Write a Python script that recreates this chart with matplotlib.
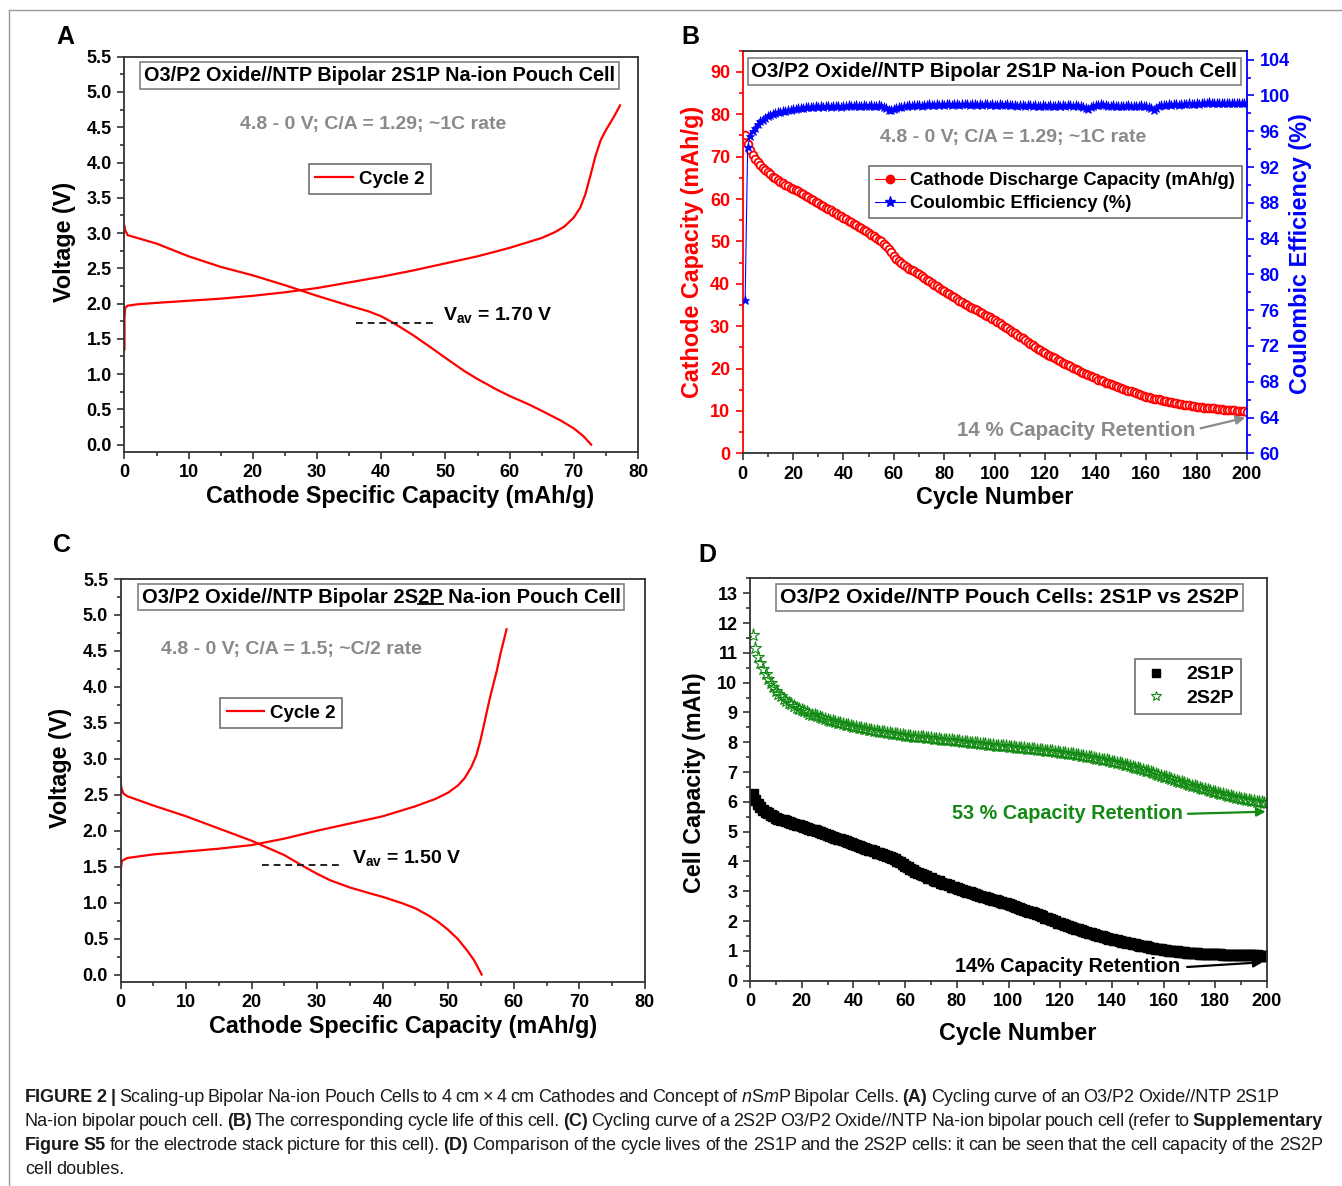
import numpy as np
import matplotlib.pyplot as plt
from matplotlib.ticker import MultipleLocator
from matplotlib.lines import Line2D

plt.rcParams['font.family'] = ['Liberation Sans', 'DejaVu Sans']
plt.rcParams['font.weight'] = 'bold'
plt.rcParams['mathtext.default'] = 'regular'

# ---------------- data ----------------
# A: 2S1P cycle 2 voltage curves
a_chg_x = [0, 0, 0.1, 0.5, 2, 5, 10, 15, 20, 25, 30, 35, 40, 45, 50, 55, 60, 65, 67, 68.5,
           70, 71, 71.8, 72.6, 73.4, 74.2, 75.0, 75.8, 76.5, 77.2]
a_chg_v = [1.35, 1.80, 1.94, 1.97, 1.99, 2.01, 2.04, 2.07, 2.11, 2.16, 2.22, 2.30, 2.38, 2.47, 2.57,
           2.67, 2.79, 2.93, 3.01, 3.09, 3.22, 3.36, 3.55, 3.82, 4.10, 4.32, 4.46, 4.58, 4.69, 4.81]
a_dis_x = [0, 0.1, 0.5, 2, 5, 10, 15, 20, 25, 30, 35, 38, 40, 42, 45, 48, 50, 53, 55, 58, 60, 63,
           65, 68, 70, 71.5, 72.7]
a_dis_v = [3.10, 3.04, 2.97, 2.93, 2.85, 2.67, 2.52, 2.40, 2.26, 2.11, 1.97, 1.89, 1.82, 1.72, 1.55,
           1.36, 1.23, 1.04, 0.93, 0.78, 0.69, 0.57, 0.48, 0.34, 0.23, 0.12, 0.0]

# C: 2S2P cycle 2 voltage curves
c_chg_x = [0, 0, 0.2, 1, 5, 10, 15, 20, 25, 30, 35, 40, 45, 48, 50, 51.5, 52.5, 53.5, 54.3, 54.9,
           55.4, 55.9, 56.4, 56.9, 57.4, 58.0, 58.9]
c_chg_v = [1.20, 1.45, 1.58, 1.62, 1.67, 1.71, 1.75, 1.80, 1.89, 2.00, 2.10, 2.20, 2.34, 2.44, 2.53,
           2.63, 2.73, 2.88, 3.05, 3.25, 3.45, 3.66, 3.86, 4.04, 4.22, 4.47, 4.80]
c_dis_x = [0, 0.1, 0.4, 1, 5, 10, 15, 20, 22, 25, 28, 30, 32, 35, 38, 40, 43, 45, 47, 48.5, 50,
           51.5, 53, 54, 55.1]
c_dis_v = [2.72, 2.60, 2.52, 2.48, 2.35, 2.20, 2.03, 1.86, 1.78, 1.66, 1.50, 1.40, 1.31, 1.21, 1.13,
           1.08, 0.99, 0.92, 0.82, 0.73, 0.62, 0.49, 0.32, 0.19, 0.0]

cycles = list(range(1, 201))

# B: cathode discharge capacity (mAh/g) and coulombic efficiency (%)
cap_b = [75.0, 73.0, 71.5, 70.4, 69.5, 68.7, 68.0, 67.4, 66.8, 66.3,
         65.8, 65.3, 64.9, 64.5, 64.1, 63.7, 63.4, 63.0, 62.7, 62.4,
         62.1, 61.8, 61.5, 61.2, 60.8, 60.5, 60.1, 59.8, 59.4, 59.1,
         58.7, 58.4, 58.0, 57.7, 57.3, 56.9, 56.6, 56.2, 55.9, 55.5,
         55.2, 54.8, 54.5, 54.1, 53.8, 53.4, 53.1, 52.7, 52.4, 52.0,
         51.6, 51.2, 50.8, 50.4, 50.0, 49.5, 48.9, 48.2, 47.4, 46.6,
         45.9, 45.3, 44.8, 44.4, 44.0, 43.6, 43.2, 42.9, 42.5, 42.2,
         41.8, 41.4, 41.0, 40.6, 40.2, 39.8, 39.4, 39.0, 38.6, 38.2,
         37.8, 37.5, 37.1, 36.8, 36.4, 36.0, 35.7, 35.3, 35.0, 34.6,
         34.3, 34.0, 33.7, 33.4, 33.1, 32.7, 32.4, 32.1, 31.8, 31.5,
         31.1, 30.7, 30.3, 29.9, 29.5, 29.1, 28.7, 28.3, 27.9, 27.5,
         27.1, 26.7, 26.3, 25.9, 25.5, 25.1, 24.7, 24.3, 24.0, 23.6,
         23.3, 23.0, 22.7, 22.4, 22.1, 21.7, 21.4, 21.1, 20.8, 20.5,
         20.2, 19.9, 19.6, 19.3, 19.0, 18.8, 18.5, 18.2, 17.9, 17.7,
         17.4, 17.2, 17.0, 16.7, 16.5, 16.3, 16.0, 15.8, 15.6, 15.4,
         15.2, 15.0, 14.8, 14.6, 14.4, 14.2, 14.0, 13.8, 13.6, 13.4,
         13.2, 13.1, 12.9, 12.8, 12.7, 12.5, 12.4, 12.3, 12.1, 12.0,
         11.9, 11.8, 11.7, 11.6, 11.5, 11.4, 11.3, 11.2, 11.1, 11.0,
         10.9, 10.9, 10.8, 10.7, 10.7, 10.6, 10.6, 10.5, 10.5, 10.4,
         10.3, 10.3, 10.2, 10.2, 10.1, 10.0, 10.0, 9.9, 9.9, 9.8]
ce_b = [77.1, 94.2, 95.5, 96.0, 96.4, 96.8, 97.1, 97.3, 97.5, 97.7,
        97.8, 97.9, 98.0, 98.1, 98.2, 98.3, 98.3, 98.4, 98.4, 98.5,
        98.5, 98.6, 98.6, 98.6, 98.7, 98.7, 98.7, 98.7, 98.8, 98.7,
        98.8, 98.7, 98.8, 98.8, 98.7, 98.8, 98.8, 98.8, 98.7, 98.8,
        98.8, 98.9, 98.8, 98.8, 98.9, 98.8, 98.8, 98.9, 98.8, 98.8,
        98.9, 98.8, 98.8, 98.9, 98.8, 98.7, 98.6, 98.4, 98.4, 98.5,
        98.6, 98.7, 98.7, 98.8, 98.8, 98.9, 98.8, 98.9, 98.9, 98.9,
        98.8, 98.9, 98.9, 99.0, 98.9, 98.9, 99.0, 98.9, 99.0, 98.9,
        99.0, 99.0, 98.9, 99.0, 99.0, 98.9, 99.0, 99.0, 99.0, 98.9,
        99.0, 99.0, 98.9, 99.0, 98.9, 99.0, 99.0, 98.9, 99.0, 98.9,
        98.9, 99.0, 98.9, 98.9, 99.0, 98.9, 98.9, 98.9, 98.8, 98.9,
        98.9, 98.8, 98.9, 98.9, 98.8, 98.9, 98.8, 98.8, 98.9, 98.8,
        98.8, 98.9, 98.8, 98.8, 98.9, 98.8, 98.9, 98.8, 98.9, 98.9,
        98.8, 98.9, 98.8, 98.8, 98.7, 98.6, 98.5, 98.7, 98.8, 98.9,
        98.9, 99.0, 98.9, 98.9, 98.8, 98.8, 98.9, 98.8, 98.8, 98.8,
        98.8, 98.8, 98.9, 98.8, 98.8, 98.8, 98.8, 98.9, 98.8, 98.8,
        98.7, 98.6, 98.4, 98.6, 98.8, 98.9, 98.9, 98.9, 99.0, 98.9,
        99.0, 99.0, 98.9, 99.0, 99.0, 99.0, 99.1, 99.0, 99.0, 99.1,
        99.0, 99.1, 99.1, 99.2, 99.3, 99.1, 99.1, 99.2, 99.1, 99.2,
        99.2, 99.1, 99.2, 99.2, 99.2, 99.1, 99.2, 99.2, 99.1, 99.1]

# D: cell capacity (mAh)
cap_2s1p = [6.25, 6.05, 5.92, 5.82, 5.74, 5.67, 5.61, 5.56, 5.51, 5.46,
            5.43, 5.40, 5.38, 5.35, 5.32, 5.30, 5.27, 5.24, 5.22, 5.19,
            5.16, 5.13, 5.10, 5.07, 5.04, 5.01, 4.98, 4.95, 4.92, 4.89,
            4.86, 4.83, 4.80, 4.77, 4.74, 4.71, 4.68, 4.65, 4.62, 4.59,
            4.56, 4.53, 4.50, 4.46, 4.43, 4.40, 4.37, 4.34, 4.30, 4.27,
            4.24, 4.21, 4.17, 4.14, 4.11, 4.07, 4.03, 3.97, 3.91, 3.85,
            3.80, 3.75, 3.71, 3.66, 3.62, 3.58, 3.54, 3.50, 3.46, 3.43,
            3.39, 3.36, 3.33, 3.29, 3.26, 3.23, 3.20, 3.16, 3.13, 3.10,
            3.07, 3.04, 3.02, 2.99, 2.96, 2.93, 2.91, 2.88, 2.85, 2.82,
            2.80, 2.77, 2.75, 2.72, 2.70, 2.67, 2.65, 2.62, 2.60, 2.57,
            2.54, 2.51, 2.48, 2.45, 2.42, 2.38, 2.35, 2.32, 2.29, 2.26,
            2.23, 2.19, 2.16, 2.12, 2.09, 2.06, 2.02, 1.99, 1.95, 1.92,
            1.89, 1.86, 1.83, 1.80, 1.78, 1.75, 1.72, 1.69, 1.67, 1.64,
            1.61, 1.59, 1.56, 1.54, 1.51, 1.49, 1.46, 1.44, 1.41, 1.39,
            1.37, 1.35, 1.33, 1.31, 1.29, 1.27, 1.25, 1.24, 1.22, 1.20,
            1.18, 1.16, 1.15, 1.13, 1.11, 1.10, 1.08, 1.06, 1.05, 1.03,
            1.02, 1.01, 1.00, 0.99, 0.98, 0.97, 0.96, 0.95, 0.94, 0.93,
            0.93, 0.92, 0.92, 0.91, 0.91, 0.90, 0.90, 0.89, 0.89, 0.88,
            0.88, 0.88, 0.87, 0.87, 0.87, 0.87, 0.86, 0.86, 0.86, 0.86,
            0.86, 0.85, 0.85, 0.85, 0.85, 0.85, 0.84, 0.84, 0.84, 0.84]
cap_2s2p = [11.60, 11.15, 10.87, 10.65, 10.45, 10.28, 10.12, 9.98, 9.85, 9.73,
            9.63, 9.54, 9.46, 9.39, 9.33, 9.27, 9.21, 9.16, 9.12, 9.08,
            9.04, 9.00, 8.96, 8.93, 8.90, 8.87, 8.84, 8.81, 8.78, 8.75,
            8.72, 8.70, 8.67, 8.65, 8.63, 8.61, 8.59, 8.57, 8.54, 8.52,
            8.50, 8.48, 8.47, 8.45, 8.44, 8.42, 8.41, 8.39, 8.38, 8.36,
            8.35, 8.33, 8.32, 8.30, 8.29, 8.28, 8.26, 8.25, 8.23, 8.22,
            8.21, 8.20, 8.19, 8.18, 8.17, 8.16, 8.16, 8.15, 8.14, 8.13,
            8.12, 8.11, 8.10, 8.09, 8.08, 8.07, 8.07, 8.06, 8.05, 8.04,
            8.03, 8.02, 8.01, 8.00, 7.99, 7.98, 7.97, 7.96, 7.95, 7.94,
            7.93, 7.92, 7.91, 7.90, 7.89, 7.89, 7.88, 7.87, 7.86, 7.85,
            7.84, 7.83, 7.82, 7.81, 7.80, 7.80, 7.79, 7.78, 7.77, 7.76,
            7.75, 7.74, 7.73, 7.72, 7.71, 7.70, 7.69, 7.68, 7.66, 7.65,
            7.64, 7.63, 7.61, 7.60, 7.59, 7.57, 7.56, 7.55, 7.53, 7.52,
            7.50, 7.49, 7.47, 7.45, 7.44, 7.42, 7.40, 7.39, 7.37, 7.35,
            7.33, 7.31, 7.29, 7.27, 7.24, 7.22, 7.20, 7.18, 7.15, 7.13,
            7.10, 7.08, 7.05, 7.02, 6.99, 6.97, 6.94, 6.91, 6.88, 6.85,
            6.82, 6.79, 6.76, 6.74, 6.71, 6.68, 6.65, 6.62, 6.60, 6.57,
            6.54, 6.52, 6.49, 6.47, 6.44, 6.42, 6.39, 6.37, 6.34, 6.32,
            6.30, 6.27, 6.25, 6.23, 6.21, 6.19, 6.16, 6.14, 6.12, 6.10,
            6.08, 6.07, 6.05, 6.04, 6.02, 6.01, 5.99, 5.98, 5.96, 5.95]

caption = [
    [('FIGURE 2 |', 'b'),
     (' Scaling-up Bipolar Na-ion Pouch Cells to 4 cm \u00d7 4 cm Cathodes and Concept of ', 'r'),
     ('n', 'i'), ('S', 'r'), ('m', 'i'), ('P Bipolar Cells. ', 'r'), ('(A)', 'b'),
     (' Cycling curve of an O3/P2 Oxide//NTP 2S1P', 'r')],
    [('Na-ion bipolar pouch cell. ', 'r'), ('(B)', 'b'),
     (' The corresponding cycle life of this cell. ', 'r'), ('(C)', 'b'),
     (' Cycling curve of a 2S2P O3/P2 Oxide//NTP Na-ion bipolar pouch cell (refer to ', 'r'),
     ('Supplementary', 'b')],
    [('Figure S5', 'b'), (' for the electrode stack picture for this cell). ', 'r'), ('(D)', 'b'),
     (' Comparison of the cycle lives of the 2S1P and the 2S2P cells: it can be seen that the cell capacity of the 2S2P', 'r')],
    [('cell doubles.', 'r')],
]

# ---------------- figure ----------------
W, H = 1342, 1186
fig = plt.figure(figsize=(W / 100, H / 100), dpi=100)
RED, BLUE, GREEN, GRAY = '#ff0000', '#0000ff', '#138a13', '#8a8a8a'


def add_ax(l, t, r, b):
    return fig.add_axes([l / W, 1 - b / H, (r - l) / W, (b - t) / H])


def style_ax(ax, xmaj, xmin, ymaj, ymin):
    for sp in ax.spines.values():
        sp.set_linewidth(1.3)
        sp.set_color('#333333')
    ax.xaxis.set_major_locator(MultipleLocator(xmaj))
    ax.xaxis.set_minor_locator(MultipleLocator(xmin))
    ax.yaxis.set_major_locator(MultipleLocator(ymaj))
    ax.yaxis.set_minor_locator(MultipleLocator(ymin))
    ax.tick_params(which='both', direction='out', top=False, right=False, width=1.2,
                   labelsize=13, color='#333333')
    ax.tick_params(which='major', length=5, pad=4)
    ax.tick_params(which='minor', length=3)


def title_box(ax, x, y, s, fs):
    return ax.text(x, y, s, transform=ax.transAxes, ha='center', va='center', fontsize=fs,
                   bbox=dict(boxstyle='square,pad=0.18', fc='white', ec='#808080', lw=1.2))


def label(ax, x, y, s, rot=0, color='black', fs=16.8):
    ax.text(x, y, s, transform=ax.transAxes, ha='center', va='center', rotation=rot,
            fontsize=fs, color=color)


leg_kw = dict(loc='upper left', borderaxespad=0, fancybox=False, framealpha=1,
              edgecolor='#707070', borderpad=0.35, labelspacing=0.3)

# ---- A ----
ax_a = add_ax(124.5, 56.7, 638, 451.7)
style_ax(ax_a, 10, 5, 0.5, 0.25)
ax_a.set_xlim(0, 80)
ax_a.set_ylim(-0.1, 5.5)
ax_a.plot(a_chg_x, a_chg_v, color=RED, lw=1.6, label='Cycle 2')
ax_a.plot(a_dis_x, a_dis_v, color=RED, lw=1.6)
ax_a.plot([36, 48.1], [1.72, 1.72], color='#222222', lw=1.4, ls=(0, (3.5, 2.5)))
ax_a.text(49.6, 1.84, 'V$_{\\mathregular{av}}$ = 1.70 V', fontsize=14, ha='left', va='center')
title_box(ax_a, 0.4966, 0.9524, 'O3/P2 Oxide//NTP Bipolar 2S1P Na-ion Pouch Cell', 14.3)
ax_a.text(0.484, 0.8296, '4.8 - 0 V; C/A = 1.29; ~1C rate', transform=ax_a.transAxes,
          ha='center', va='center', fontsize=14, color=GRAY)
lg = ax_a.legend(bbox_to_anchor=(0.359, 0.728), prop={'size': 13.5, 'weight': 'bold'},
                 handlelength=2.0, handletextpad=0.3, **leg_kw)
lg.get_frame().set_linewidth(1.2)
label(ax_a, 0.5365, -0.114, 'Cathode Specific Capacity (mAh/g)')
label(ax_a, -0.116, 0.530, 'Voltage (V)', rot=90)

# ---- B ----
ax_b = add_ax(742.6, 50.7, 1247, 453.3)
style_ax(ax_b, 20, 10, 10, 5)
ax_b.set_xlim(0, 200)
ax_b.set_ylim(0, 95)
ax_b.tick_params(axis='y', which='both', colors=RED, labelcolor=RED)
ax_b.spines['left'].set_color(RED)
ax_b.spines['right'].set_visible(False)
ax_b2 = ax_b.twinx()
ax_b2.set_ylim(60, 105)
ax_b2.yaxis.set_major_locator(MultipleLocator(4))
ax_b2.yaxis.set_minor_locator(MultipleLocator(2))
ax_b2.tick_params(which='both', direction='out', width=1.2, labelsize=13, colors=BLUE)
ax_b2.tick_params(which='major', length=5, pad=4)
ax_b2.tick_params(which='minor', length=3)
for k in ('left', 'top', 'bottom'):
    ax_b2.spines[k].set_visible(False)
ax_b2.spines['right'].set_color(BLUE)
ax_b2.spines['right'].set_linewidth(1.3)
l_cap, = ax_b.plot(cycles, cap_b, color=RED, lw=0.8, marker='o', ms=5.6, mfc='white',
                   mec=RED, mew=1.3, label='Cathode Discharge Capacity (mAh/g)')
l_ce, = ax_b2.plot(cycles, ce_b, color=BLUE, lw=0.8, marker='*', ms=6.5, mfc=BLUE, mec=BLUE,
                   mew=0.5, label='Coulombic Efficiency (%)')
title_box(ax_b2, 0.499, 0.948, 'O3/P2 Oxide//NTP Bipolar 2S1P Na-ion Pouch Cell', 14.8)
ax_b2.text(0.536, 0.7856, '4.8 - 0 V; C/A = 1.29; ~1C rate', transform=ax_b2.transAxes,
           ha='center', va='center', fontsize=14, color=GRAY)
h_cap = Line2D([], [], color=RED, lw=0.8, marker='o', ms=6, mfc=RED, mec=RED)
h_ce = Line2D([], [], color=BLUE, lw=0.8, marker='*', ms=8, mfc=BLUE, mec=BLUE)
lg = ax_b2.legend([h_cap, h_ce], [l_cap.get_label(), l_ce.get_label()],
                  bbox_to_anchor=(0.25, 0.7136), prop={'size': 13.3, 'weight': 'bold'},
                  handlelength=1.6, handletextpad=0.3, **leg_kw)
lg.get_frame().set_linewidth(1.2)
ax_b.text(179.4, 5.3, '14 % Capacity Retention', ha='right', va='center', fontsize=14.8,
          color=GRAY)
ax_b.annotate('', xy=(199.3, 8.4), xytext=(181.6, 5.9),
              arrowprops=dict(arrowstyle='-|>', color=GRAY, lw=1.6, mutation_scale=13,
                              shrinkA=0, shrinkB=0))
label(ax_b, 0.5004, -0.1086, 'Cycle Number')
label(ax_b, -0.099, 0.499, 'Cathode Capacity (mAh/g)', rot=90, color=RED)
label(ax_b, 1.107, 0.497, 'Coulombic Efficiency (%)', rot=90, color=BLUE)

# ---- C ----
ax_c = add_ax(120.6, 579, 644.8, 981.7)
style_ax(ax_c, 10, 5, 0.5, 0.25)
ax_c.set_xlim(0, 80)
ax_c.set_ylim(-0.1, 5.5)
ax_c.plot(c_chg_x, c_chg_v, color=RED, lw=1.6, label='Cycle 2')
ax_c.plot(c_dis_x, c_dis_v, color=RED, lw=1.6)
ax_c.plot([21.6, 33.5], [1.52, 1.52], color='#222222', lw=1.4, ls=(0, (3.5, 2.5)))
ax_c.text(35.3, 1.62, 'V$_{\\mathregular{av}}$ = 1.50 V', fontsize=14, ha='left', va='center')
c_title = 'O3/P2 Oxide//NTP Bipolar 2S2P Na-ion Pouch Cell'
tc = title_box(ax_c, 0.4973, 0.9548, c_title, 14.6)
ax_c.text(0.325, 0.8237, '4.8 - 0 V; C/A = 1.5; ~C/2 rate', transform=ax_c.transAxes,
          ha='center', va='center', fontsize=14, color=GRAY)
lg = ax_c.legend(bbox_to_anchor=(0.19, 0.7045), prop={'size': 13.5, 'weight': 'bold'},
                 handlelength=2.0, handletextpad=0.3, **leg_kw)
lg.get_frame().set_linewidth(1.2)
label(ax_c, 0.5385, -0.1118, 'Cathode Specific Capacity (mAh/g)')
label(ax_c, -0.114, 0.531, 'Voltage (V)', rot=90)

# ---- D ----
ax_d = add_ax(750, 578.3, 1267, 980.7)
style_ax(ax_d, 20, 10, 1, 0.5)
ax_d.set_xlim(0, 200)
ax_d.set_ylim(0, 13.5)
ax_d.plot(cycles, cap_2s1p, ls='none', marker='s', ms=7, color='black', label='2S1P')
ax_d.plot(cycles, cap_2s2p, ls='none', marker='*', ms=9.5, mfc='none', mec=GREEN, mew=0.8,
          label='2S2P')
title_box(ax_d, 0.502, 0.9528, 'O3/P2 Oxide//NTP Pouch Cells: 2S1P vs 2S2P', 15.3)
lg = ax_d.legend(bbox_to_anchor=(0.745, 0.7995), prop={'size': 14, 'weight': 'bold'},
                 handlelength=1.4, handletextpad=0.9, numpoints=1, markerscale=0.75, **leg_kw)
lg.get_frame().set_linewidth(1.2)
ax_d.text(167.5, 5.6, '53 % Capacity Retention', ha='right', va='center', fontsize=14.3,
          color=GREEN)
ax_d.annotate('', xy=(199.5, 5.67), xytext=(169.4, 5.6),
              arrowprops=dict(arrowstyle='-|>', color=GREEN, lw=1.6, mutation_scale=13,
                              shrinkA=0, shrinkB=0))
ax_d.text(166.3, 0.46, '14% Capacity Retention', ha='right', va='center', fontsize=14.3,
          color='black')
ax_d.annotate('', xy=(198.3, 0.62), xytext=(169.1, 0.46),
              arrowprops=dict(arrowstyle='-|>', color='black', lw=1.6, mutation_scale=13,
                              shrinkA=0, shrinkB=0))
label(ax_d, 0.518, -0.1307, 'Cycle Number')
label(ax_d, -0.107, 0.4925, 'Cell Capacity (mAh)', rot=90)

# panel letters
for s, x, y in [('A', 65, 37), ('B', 690, 37), ('C', 62, 545), ('D', 707, 555)]:
    fig.text(x / W, 1 - y / H, s, fontsize=18, ha='center', va='center')

# frame lines
fig.add_artist(Line2D([9 / W, 9 / W], [0, 1 - 10 / H], transform=fig.transFigure,
                      color='#9a9a9a', lw=1))
fig.add_artist(Line2D([9 / W, 1], [1 - 10 / H, 1 - 10 / H], transform=fig.transFigure,
                      color='#9a9a9a', lw=1))

# ---- underline "2P" in panel C title ----
r = fig.canvas.get_renderer()


def text_w(s, **kw):
    t = fig.text(0, 0, s, **kw)
    w = t.get_window_extent(r).width
    t.remove()
    return w


bb = tc.get_window_extent(r)
w1 = text_w(c_title[:c_title.index('2P Na')], fontsize=14.6)
w2 = text_w(c_title[:c_title.index('2P Na') + 2], fontsize=14.6)
fig.add_artist(Line2D([(bb.x0 + w1) / W, (bb.x0 + w2) / W], [(bb.y0 + 2.5) / H] * 2,
                      transform=fig.transFigure, color='black', lw=1.3))

# ---- caption ----
fmt = {'r': dict(fontweight='normal'), 'b': dict(fontweight='bold'),
       'i': dict(fontweight='normal', fontstyle='italic')}
SPACE_F = 0.72


def tokens(parts):
    out, pend = [], False
    for text, f in parts:
        for i, p in enumerate(text.split(' ')):
            if i > 0:
                pend = True
            if p:
                out.append((p, f, pend))
                pend = False
    return out


def line_w(parts, fs):
    tk = tokens(parts)
    sp = text_w('a a', fontsize=fs, **fmt['r']) - text_w('aa', fontsize=fs, **fmt['r'])
    ws = [text_w(p, fontsize=fs, **fmt[f]) for p, f, _ in tk]
    return tk, ws, sp * SPACE_F


base = 10.0
tk, ws, sp = line_w(caption[0], base)
cap_fs = base * 1255 / (sum(ws) + sp * sum(1 for t in tk if t[2]))

for i, (parts, yb) in enumerate(zip(caption, [1102, 1126, 1150, 1174])):
    tk, ws, sp = line_w(parts, cap_fs)
    n_sp = sum(1 for t in tk if t[2])
    gap = sp
    if i in (1, 2) and n_sp:
        gap = sp + (1298 - sum(ws) - n_sp * sp) / n_sp
    x = 25
    for (p, f, has_sp), w in zip(tk, ws):
        if has_sp:
            x += gap
        fig.text(x / W, 1 - yb / H, p, fontsize=cap_fs, ha='left', va='baseline', color='#1a1a1a',
                 **fmt[f])
        x += w

fig.savefig('out.png', dpi=100)
